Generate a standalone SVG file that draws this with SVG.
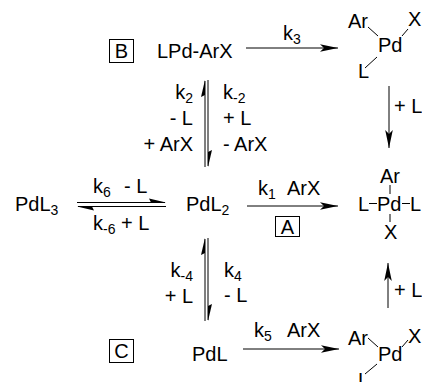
<svg xmlns="http://www.w3.org/2000/svg" width="422" height="382" viewBox="0 0 422 382">
<style>
text{font-family:"Liberation Sans",Arial,sans-serif;font-size:20px;fill:#000}
.s{font-size:14px}
.ln{stroke:#000;stroke-width:1;fill:none}
.bd{stroke:#000;stroke-width:1;fill:none}
.hb{fill:#000;stroke:none}
.box{fill:none;stroke:#000;stroke-width:1}
</style>
<defs>
<marker id="ah" markerUnits="userSpaceOnUse" markerWidth="20" markerHeight="10" refX="18" refY="5" orient="auto">
<path d="M0,1.2 L18,5 L0,8.8 L4,5 Z" fill="#000"/>
</marker>
</defs>
<rect width="422" height="382" fill="#fff"/>

<g id="connectors">
<line class="ln" x1="246" y1="48" x2="338" y2="48" marker-end="url(#ah)"/>
<line class="ln" x1="389" y1="86" x2="389" y2="148" marker-end="url(#ah)"/>
<line class="ln" x1="247" y1="206" x2="338" y2="206" marker-end="url(#ah)"/>
<line class="ln" x1="388" y1="308" x2="388" y2="263" marker-end="url(#ah)"/>
<line class="ln" x1="243" y1="349" x2="339" y2="349" marker-end="url(#ah)"/>
<line class="ln" x1="205" y1="81" x2="205" y2="167"/>
<polygon class="hb" points="205,80 201,97 205,95"/>
<line class="ln" x1="208" y1="80" x2="208" y2="166"/>
<polygon class="hb" points="208,167 212,150 208,152"/>
<line class="ln" x1="205" y1="239" x2="205" y2="321"/>
<polygon class="hb" points="205,238 201,255 205,253"/>
<line class="ln" x1="208" y1="238" x2="208" y2="320"/>
<polygon class="hb" points="208,321 212,304 208,306"/>
<line class="ln" x1="77" y1="202.5" x2="165" y2="202.5"/>
<polygon class="hb" points="166,202.5 149,198.5 151,202.5"/>
<line class="ln" x1="78" y1="206.5" x2="166" y2="206.5"/>
<polygon class="hb" points="77,206.5 94,210.5 92,206.5"/>
</g>

<g id="B">
<rect class="box" x="109.5" y="39.5" width="24" height="23"/>
<text x="121.5" y="58" text-anchor="middle">B</text>
</g>
<g id="LPdArX"><text x="157" y="58">LPd-ArX</text></g>
<g id="k3"><text x="283" y="40">k<tspan class="s" dy="4">3</tspan></text></g>

<g id="PdArXL_top">
<text x="348" y="28">Ar</text>
<text x="408" y="26">X</text>
<text x="378" y="52">Pd</text>
<text x="358" y="78">L</text>
<line class="bd" x1="368" y1="27" x2="378" y2="36"/>
<line class="bd" x1="402" y1="36" x2="408" y2="29"/>
<line class="bd" x1="365" y1="68" x2="377" y2="57"/>
</g>
<g id="plusL1"><text x="394" y="113">+ L</text></g>

<g id="eq_top_labels">
<text x="193" y="99" text-anchor="end">k<tspan class="s" dy="4">2</tspan></text>
<text x="193" y="125" text-anchor="end">- L</text>
<text x="193" y="151" text-anchor="end">+ ArX</text>
<text x="223" y="99">k<tspan class="s" dy="4">-2</tspan></text>
<text x="223" y="125">+ L</text>
<text x="223" y="151">- ArX</text>
</g>

<g id="PdL3"><text x="15" y="211">PdL<tspan class="s" dy="4">3</tspan></text></g>
<g id="eq_h_labels">
<text x="93" y="193">k<tspan class="s" dy="4">6</tspan></text>
<text x="124" y="193">- L</text>
<text x="93" y="230">k<tspan class="s" dy="4">-6</tspan><tspan dy="-4"> + L</tspan></text>
</g>
<g id="PdL2"><text x="186" y="211">PdL<tspan class="s" dy="4">2</tspan></text></g>

<g id="k1"><text x="258" y="195">k<tspan class="s" dy="4">1</tspan></text><text x="287" y="195">ArX</text></g>
<g id="A">
<rect class="box" x="275.5" y="216.5" width="24" height="20"/>
<text x="287.5" y="234" text-anchor="middle">A</text>
</g>

<g id="PdArXL2">
<text x="380" y="183">Ar</text>
<line class="bd" x1="390" y1="185" x2="390" y2="194"/>
<text x="358" y="211">L</text>
<line class="bd" x1="369" y1="203.5" x2="377" y2="203.5"/>
<text x="377" y="211">Pd</text>
<line class="bd" x1="402" y1="203.5" x2="410" y2="203.5"/>
<text x="410" y="211">L</text>
<line class="bd" x1="390" y1="214" x2="390" y2="222"/>
<text x="384" y="239">X</text>
</g>

<g id="eq_bottom_labels">
<text x="193" y="277" text-anchor="end">k<tspan class="s" dy="4">-4</tspan></text>
<text x="193" y="303" text-anchor="end">+ L</text>
<text x="224" y="277">k<tspan class="s" dy="4">4</tspan></text>
<text x="224" y="302">- L</text>
</g>

<g id="plusL2"><text x="394" y="297">+ L</text></g>

<g id="C">
<rect class="box" x="109.5" y="339.5" width="24" height="23"/>
<text x="121.5" y="358" text-anchor="middle">C</text>
</g>
<g id="PdL"><text x="192" y="361">PdL</text></g>
<g id="k5"><text x="254" y="337">k<tspan class="s" dy="4">5</tspan></text><text x="287" y="337">ArX</text></g>

<g id="PdArXL_bottom">
<text x="348" y="345">Ar</text>
<text x="408" y="343">X</text>
<text x="378" y="361">Pd</text>
<text x="358" y="387">L</text>
<line class="bd" x1="368" y1="338" x2="378" y2="347"/>
<line class="bd" x1="402" y1="347" x2="408" y2="340"/>
<line class="bd" x1="365" y1="374" x2="377" y2="364"/>
</g>
</svg>
